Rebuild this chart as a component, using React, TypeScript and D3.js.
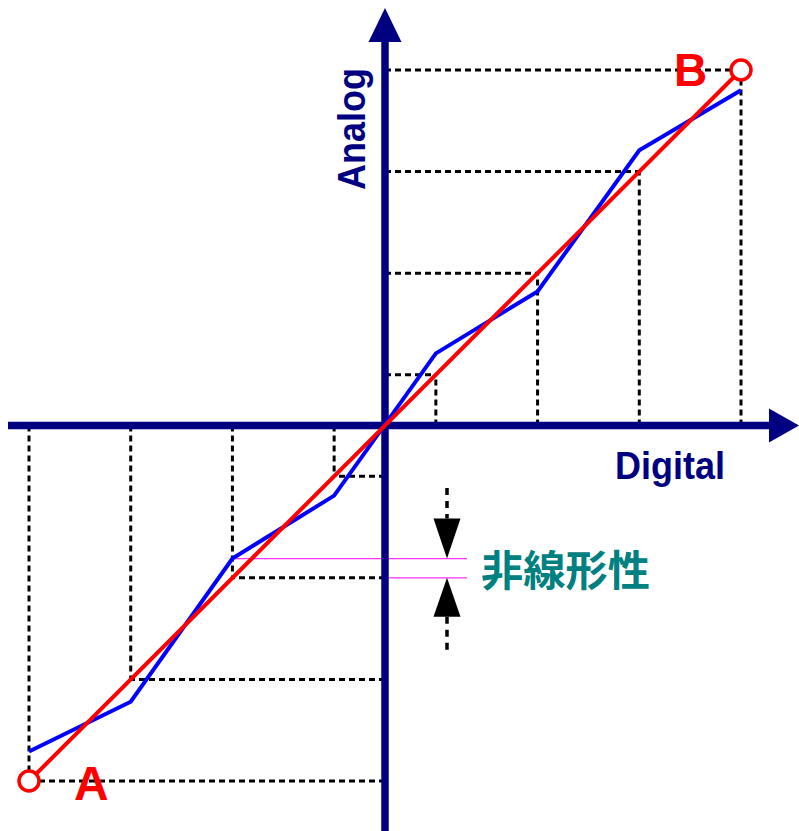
import React from "react";
import * as d3 from "d3";

const codes = [-3.5, -2.5, -1.5, -0.5, 0.5, 1.5, 2.5, 3.5];
const actual = [-3.21, -2.72, -1.31, -0.69, 0.71, 1.32, 2.71, 3.3];
const idealEnds = [-3.5, 3.5];
const xLabel = "Digital";
const yLabel = "Analog";
const gapLabel = "非線形性";
const pointLabels = ["A", "B"];

const W = 799;
const H = 831;
const navy = "#000080";

export default function App() {
  const x = d3.scaleLinear().domain([-3.5, 3.5]).range([29, 741]);
  const y = d3.scaleLinear().domain([-3.5, 3.5]).range([781, 70]);
  const x0 = x(0);
  const y0 = y(0);

  const line = d3
    .line<[number, number]>()
    .x((d) => x(d[0]))
    .y((d) => y(d[1]));

  const bluePts: [number, number][] = codes.map((c, i) => [c, actual[i]]);
  const redPts: [number, number][] = idealEnds.map((c) => [c, c]);

  const gapIdx = 2; // code -1.5
  const gTop = y(actual[gapIdx]);
  const gBot = y(codes[gapIdx]);
  const ax = 447;

  const dash = { stroke: "#000", strokeWidth: 3, strokeDasharray: "6,4", fill: "none" };

  return (
    <svg width={W} height={H} style={{ position: "absolute", left: 0, top: 0 }}>
      <rect width={W} height={H} fill="#fff" />
      {/* dashed guide lines */}
      {codes.map((c, i) => (
        <g key={i}>
          <line x1={x(c)} x2={x(c)} y1={y0} y2={y(c)} {...dash} />
          <line x1={x0} x2={x(c)} y1={y(c)} y2={y(c)} {...dash} />
        </g>
      ))}
      {/* pink nonlinearity lines */}
      <line x1={x(codes[gapIdx])} x2={467} y1={gTop} y2={gTop} stroke="#ff33ff" strokeWidth={1.2} />
      <line x1={x0} x2={467} y1={gBot} y2={gBot} stroke="#ff33ff" strokeWidth={1.2} />
      {/* axes */}
      <line x1={8} x2={772} y1={y0} y2={y0} stroke={navy} strokeWidth={7.5} />
      <path d={`M769,${y0 - 17}L799,${y0}L769,${y0 + 17}Z`} fill={navy} />
      <line x1={x0} x2={x0} y1={40} y2={H} stroke={navy} strokeWidth={7.5} />
      <path d={`M${x0 - 16.5},42L${x0},8L${x0 + 16.5},42Z`} fill={navy} />
      {/* curves */}
      <path d={line(bluePts) || ""} fill="none" stroke="#0000ff" strokeWidth={4} strokeLinejoin="miter" />
      <path d={line(redPts) || ""} fill="none" stroke="#ff0000" strokeWidth={4} />
      {redPts.map((p, i) => (
        <circle key={i} cx={x(p[0])} cy={y(p[1])} r={10} fill="#fff" stroke="#ff0000" strokeWidth={3.5} />
      ))}
      {/* gap arrows */}
      <line x1={ax} x2={ax} y1={488} y2={gTop - 40} stroke="#000" strokeWidth={3.5} strokeDasharray="7,6" />
      <path d={`M${ax - 13.5},${gTop - 40}L${ax + 13.5},${gTop - 40}L${ax},${gTop}Z`} fill="#000" />
      <path d={`M${ax - 13.5},${gBot + 39}L${ax + 13.5},${gBot + 39}L${ax},${gBot}Z`} fill="#000" />
      <line x1={ax} x2={ax} y1={gBot + 39} y2={651} stroke="#000" strokeWidth={3.5} strokeDasharray="7,6" />
      {/* labels */}
      <text x={615} y={479} fontFamily="Liberation Sans, Arial, sans-serif" fontWeight="bold" fontSize={39} fill={navy} textLength={110} lengthAdjust="spacingAndGlyphs">
        {xLabel}
      </text>
      <text
        transform="translate(365,190) rotate(-90)"
        fontFamily="Liberation Sans, Arial, sans-serif"
        fontWeight="bold"
        fontSize={38}
        fill={navy}
        textLength={122}
        lengthAdjust="spacingAndGlyphs"
      >
        {yLabel}
      </text>
      <text x={481} y={586} fontFamily="Noto Sans CJK JP, sans-serif" fontWeight="bold" fontSize={42} fill="#008080" textLength={169} lengthAdjust="spacingAndGlyphs">
        {gapLabel}
      </text>
      <text x={74} y={800} fontFamily="Liberation Sans, Arial, sans-serif" fontWeight="bold" fontSize={48} fill="#ff0000">
        {pointLabels[0]}
      </text>
      <text x={674} y={86} fontFamily="Liberation Sans, Arial, sans-serif" fontWeight="bold" fontSize={46} fill="#ff0000">
        {pointLabels[1]}
      </text>
    </svg>
  );
}
